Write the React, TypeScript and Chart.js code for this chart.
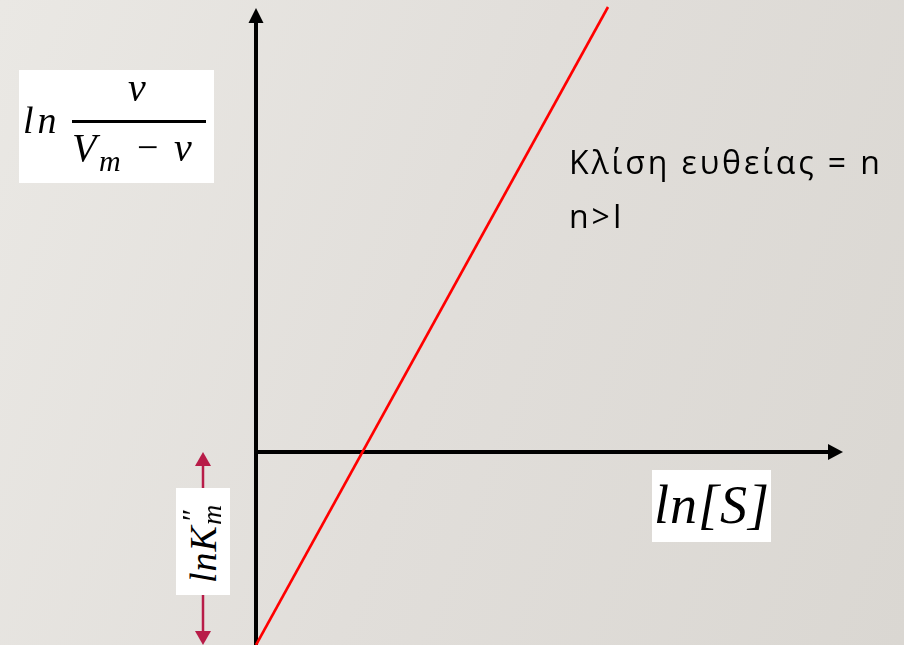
import React, { useEffect, useRef } from "react";
import { Chart, registerables } from "chart.js";

Chart.register(...registerables);

// Hill plot: ln(v / (Vm - v)) against ln[S]
const lnS = [0, 3.52];
const lnRatio = [-1.93, 4.45];

// visible window of the plot, in data units
const xRange = [-2.56, 6.48];
const yRange = [-1.93, 4.52];

// where the drawn axes end (arrow tips) and where the K''m marker sits
const xAxisEnd = 5.87;
const yAxisEnd = 4.44;
const kmMarkX = -0.53;

const slopeLines = ["Κλίση ευθείας = n", "n>I"];

const AXIS = "#000000";
const LINE = "#ff0000";
const MARK = "#b81c48";

function arrowHead(
  ctx: CanvasRenderingContext2D,
  tipX: number,
  tipY: number,
  dx: number,
  dy: number,
  len: number,
  half: number,
  color: string
) {
  const bx = tipX - dx * len;
  const by = tipY - dy * len;
  ctx.beginPath();
  ctx.moveTo(tipX, tipY);
  ctx.lineTo(bx - dy * half, by + dx * half);
  ctx.lineTo(bx + dy * half, by - dx * half);
  ctx.closePath();
  ctx.fillStyle = color;
  ctx.fill();
}

const axesPlugin = {
  id: "hillAxes",
  beforeDatasetsDraw(chart: any) {
    const ctx: CanvasRenderingContext2D = chart.ctx;
    const sx = chart.scales.x;
    const sy = chart.scales.y;
    const x0 = sx.getPixelForValue(0);
    const y0 = sy.getPixelForValue(0);
    const yBottom = sy.getPixelForValue(yRange[0]);
    const yTip = sy.getPixelForValue(yAxisEnd);
    const xTip = sx.getPixelForValue(xAxisEnd);
    ctx.save();
    ctx.lineCap = "butt";

    // vertical axis
    ctx.strokeStyle = AXIS;
    ctx.lineWidth = 4;
    ctx.beginPath();
    ctx.moveTo(x0, yBottom + 2);
    ctx.lineTo(x0, yTip + 12);
    ctx.stroke();
    arrowHead(ctx, x0, yTip, 0, -1, 15, 7.5, AXIS);

    // horizontal axis
    ctx.beginPath();
    ctx.moveTo(x0 - 2, y0);
    ctx.lineTo(xTip - 12, y0);
    ctx.stroke();
    arrowHead(ctx, xTip, y0, 1, 0, 15, 8, AXIS);

    // double arrow spanning the intercept (ln K''m)
    const km = sx.getPixelForValue(kmMarkX);
    const yInt = sy.getPixelForValue(lnRatio[0]);
    ctx.strokeStyle = MARK;
    ctx.lineWidth = 2.5;
    ctx.beginPath();
    ctx.moveTo(km, y0 + 10);
    ctx.lineTo(km, yInt - 10);
    ctx.stroke();
    arrowHead(ctx, km, y0, 0, -1, 14, 8, MARK);
    arrowHead(ctx, km, yInt, 0, 1, 14, 8, MARK);
    ctx.restore();
  },
};

const serif = '"Liberation Serif", "DejaVu Serif", serif';
const sans = '"Open Sans", "Noto Sans", sans-serif';

const box: React.CSSProperties = {
  position: "absolute",
  background: "#ffffff",
};

// line-height 1: the baseline sits 0.8375em below the top of the span
const mathText = (size: number, left: number, baseline: number, italic = true): React.CSSProperties => ({
  position: "absolute",
  left,
  top: baseline - size * 0.8375,
  fontFamily: serif,
  fontStyle: italic ? "italic" : "normal",
  fontSize: size,
  lineHeight: 1,
  whiteSpace: "nowrap",
  color: "#000",
});

export default function App() {
  const canvasRef = useRef<HTMLCanvasElement | null>(null);

  useEffect(() => {
    const canvas = canvasRef.current;
    if (!canvas) return;
    const chart = new Chart(canvas, {
      type: "scatter",
      data: {
        datasets: [
          {
            data: lnS.map((x, i) => ({ x, y: lnRatio[i] })),
            showLine: true,
            borderColor: LINE,
            borderWidth: 2.6,
            pointRadius: 0,
            fill: false,
          },
        ],
      },
      options: {
        responsive: false,
        animation: false,
        events: [],
        layout: { padding: 0 },
        plugins: {
          legend: { display: false },
          tooltip: { enabled: false },
        },
        scales: {
          x: { type: "linear", min: xRange[0], max: xRange[1], display: false },
          y: { type: "linear", min: yRange[0], max: yRange[1], display: false },
        },
      },
      plugins: [axesPlugin],
    });
    return () => chart.destroy();
  }, []);

  return (
    <div
      style={{
        position: "absolute",
        left: 0,
        top: 0,
        width: 904,
        height: 645,
        overflow: "hidden",
        background: "linear-gradient(110deg, #eae8e4 0%, #e1deda 50%, #dad7d2 100%)",
      }}
    >
      <canvas
        ref={canvasRef}
        width={904}
        height={645}
        style={{ position: "absolute", left: 0, top: 0, width: 904, height: 645 }}
      />

      {/* y-axis label: ln v / (Vm − v) */}
      <div style={{ ...box, left: 19, top: 70, width: 195, height: 113 }}>
        <span style={{ ...mathText(38, 4, 63), letterSpacing: 4 }}>ln</span>
        <span style={{ ...mathText(40, 109, 31) }}>v</span>
        <div style={{ position: "absolute", left: 53, top: 50, width: 134, height: 2.5, background: "#000" }} />
        <span style={{ ...mathText(40, 53, 91) }}>V</span>
        <span style={{ ...mathText(30, 80, 101) }}>m</span>
        <span style={{ ...mathText(38, 118, 90, false) }}>−</span>
        <span style={{ ...mathText(40, 155, 91) }}>v</span>
      </div>

      {/* x-axis label: ln[S] */}
      <div style={{ ...box, left: 652, top: 470, width: 119, height: 72 }}>
        <span style={{ ...mathText(54, 2, 53), letterSpacing: 1 }}>ln[S]</span>
      </div>

      {/* intercept label: ln K''m */}
      <div style={{ ...box, left: 176, top: 488, width: 54, height: 107 }}>
        <div
          style={{
            position: "absolute",
            left: "50%",
            top: "50%",
            transform: "translate(-50%, -50%) rotate(-90deg)",
            fontFamily: serif,
            fontStyle: "italic",
            fontSize: 38,
            lineHeight: 1,
            whiteSpace: "nowrap",
            letterSpacing: 1,
          }}
        >
          lnK
          <span style={{ position: "relative", display: "inline-block", width: 24, height: 38, verticalAlign: "top" }}>
            <span style={{ position: "absolute", left: 2, top: -7, fontSize: 30 }}>″</span>
            <span style={{ position: "absolute", left: 0, top: 14, fontSize: 28 }}>m</span>
          </span>
        </div>
      </div>

      {/* slope annotation */}
      <div
        style={{
          position: "absolute",
          left: 569,
          top: 147,
          fontFamily: sans,
          fontSize: 32,
          fontWeight: 500,
          letterSpacing: 2.9,
          color: "#000",
          whiteSpace: "nowrap",
        }}
      >
        {slopeLines.map((t, i) => (
          <div key={i} style={{ height: 54, lineHeight: "30px" }}>
            {t}
          </div>
        ))}
      </div>
    </div>
  );
}
